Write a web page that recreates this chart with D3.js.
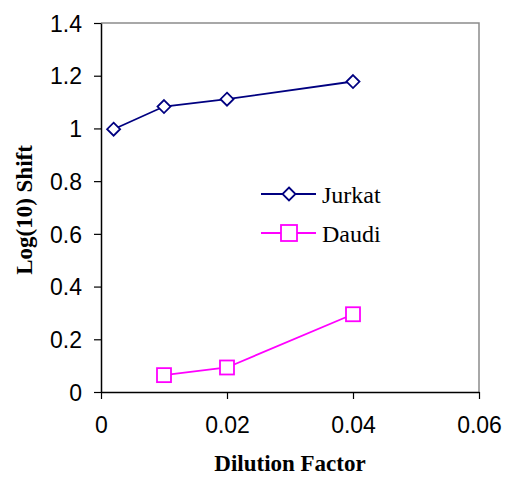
<!DOCTYPE html>
<html>
<head>
<meta charset="utf-8">
<script src="https://cdn.jsdelivr.net/npm/d3@7"></script>
<style>
	body { margin: 0; background: #fff; }
	svg { display: block; }
	.tick text { font-family: "Liberation Sans", Arial, sans-serif; font-size: 23px; fill: #000; }
	.title { font-family: "Liberation Serif", "Times New Roman", serif; font-weight: bold; font-size: 23px; }
	.legend-text { font-family: "Liberation Serif", "Times New Roman", serif; font-size: 24px; }
</style>
</head>
<body>
<div id="chart"></div>
<script>
// Data
const jurkatX = [0.002, 0.01, 0.02, 0.04];
const jurkatY = [0.997, 1.083, 1.111, 1.178];
const daudiX = [0.01, 0.02, 0.04];
const daudiY = [0.064, 0.093, 0.295];
const xTicks = [0, 0.02, 0.04, 0.06];
const yTicks = [0, 0.2, 0.4, 0.6, 0.8, 1, 1.2, 1.4];

const width = 512;
const height = 477;
const margin = { top: 23, right: 33, bottom: 85, left: 101 };
const innerW = width - margin.left - margin.right;
const innerH = height - margin.top - margin.bottom;

const svg = d3.select("#chart")
	.append("svg")
	.attr("width", width)
	.attr("height", height);

const g = svg.append("g")
	.attr("transform", `translate(${margin.left},${margin.top})`);

const x = d3.scaleLinear().domain([0, 0.06]).range([0, innerW]);
const y = d3.scaleLinear().domain([0, 1.4]).range([innerH, 0]);

// Gray frame on top and right
g.append("path")
	.attr("d", `M0,0H${innerW}V${innerH}`)
	.attr("fill", "none")
	.attr("stroke", "#8c8c8c")
	.attr("stroke-width", 1.5);

// Axes
const xAxis = g.append("g")
	.attr("transform", `translate(0,${innerH})`)
	.call(d3.axisBottom(x).tickValues(xTicks).tickSize(7).tickSizeOuter(0)
		.tickFormat(d => String(+d.toFixed(2))));
xAxis.selectAll("text").attr("dy", "1.35em");

const yAxis = g.append("g")
	.call(d3.axisLeft(y).tickValues(yTicks).tickSize(7).tickSizeOuter(0)
		.tickFormat(d => String(+d.toFixed(1))));
yAxis.selectAll("text").attr("x", -19).attr("dy", "0.36em");

g.selectAll(".domain").attr("stroke", "#000").attr("stroke-width", 1.5);
g.selectAll(".tick line").attr("stroke", "#000").attr("stroke-width", 1.2);

// Series
const jurkat = jurkatX.map((d, i) => ({ x: d, y: jurkatY[i] }));
const daudi = daudiX.map((d, i) => ({ x: d, y: daudiY[i] }));

const line = d3.line().x(d => x(d.x)).y(d => y(d.y));

g.append("path")
	.datum(jurkat)
	.attr("d", line)
	.attr("fill", "none")
	.attr("stroke", "#000080")
	.attr("stroke-width", 1.8);

g.append("path")
	.datum(daudi)
	.attr("d", line)
	.attr("fill", "none")
	.attr("stroke", "#ff00ff")
	.attr("stroke-width", 1.8);

const diamond = (s) => `M0,${-s}L${s},0L0,${s}L${-s},0Z`;

g.selectAll(".jurkat-pt")
	.data(jurkat)
	.enter()
	.append("path")
	.attr("class", "jurkat-pt")
	.attr("transform", d => `translate(${x(d.x)},${y(d.y)})`)
	.attr("d", diamond(6.5))
	.attr("fill", "#fff")
	.attr("stroke", "#000080")
	.attr("stroke-width", 1.8);

g.selectAll(".daudi-pt")
	.data(daudi)
	.enter()
	.append("rect")
	.attr("class", "daudi-pt")
	.attr("x", d => x(d.x) - 7)
	.attr("y", d => y(d.y) - 7)
	.attr("width", 14)
	.attr("height", 14)
	.attr("fill", "#fff")
	.attr("stroke", "#ff00ff")
	.attr("stroke-width", 1.8);

// Legend
const legend = svg.append("g");
const items = [
	{ name: "Jurkat", color: "#000080", y: 194, shape: "diamond" },
	{ name: "Daudi", color: "#ff00ff", y: 233, shape: "square" }
];
items.forEach(d => {
	legend.append("line")
		.attr("x1", 261).attr("x2", 316)
		.attr("y1", d.y).attr("y2", d.y)
		.attr("stroke", d.color)
		.attr("stroke-width", 1.8);
	if (d.shape === "diamond") {
		legend.append("path")
			.attr("transform", `translate(289,${d.y})`)
			.attr("d", diamond(6.5))
			.attr("fill", "#fff")
			.attr("stroke", d.color)
			.attr("stroke-width", 1.8);
	} else {
		legend.append("rect")
			.attr("x", 281).attr("y", d.y - 8)
			.attr("width", 16).attr("height", 16)
			.attr("fill", "#fff")
			.attr("stroke", d.color)
			.attr("stroke-width", 1.8);
	}
	legend.append("text")
		.attr("class", "legend-text")
		.attr("x", 322)
		.attr("y", d.y + 9)
		.text(d.name);
});

// Axis titles
svg.append("text")
	.attr("class", "title")
	.attr("x", margin.left + innerW / 2)
	.attr("y", 471)
	.attr("text-anchor", "middle")
	.text("Dilution Factor");

svg.append("text")
	.attr("class", "title")
	.attr("transform", `translate(32,210) rotate(-90)`)
	.attr("text-anchor", "middle")
	.text("Log(10) Shift");
</script>
</body>
</html>
